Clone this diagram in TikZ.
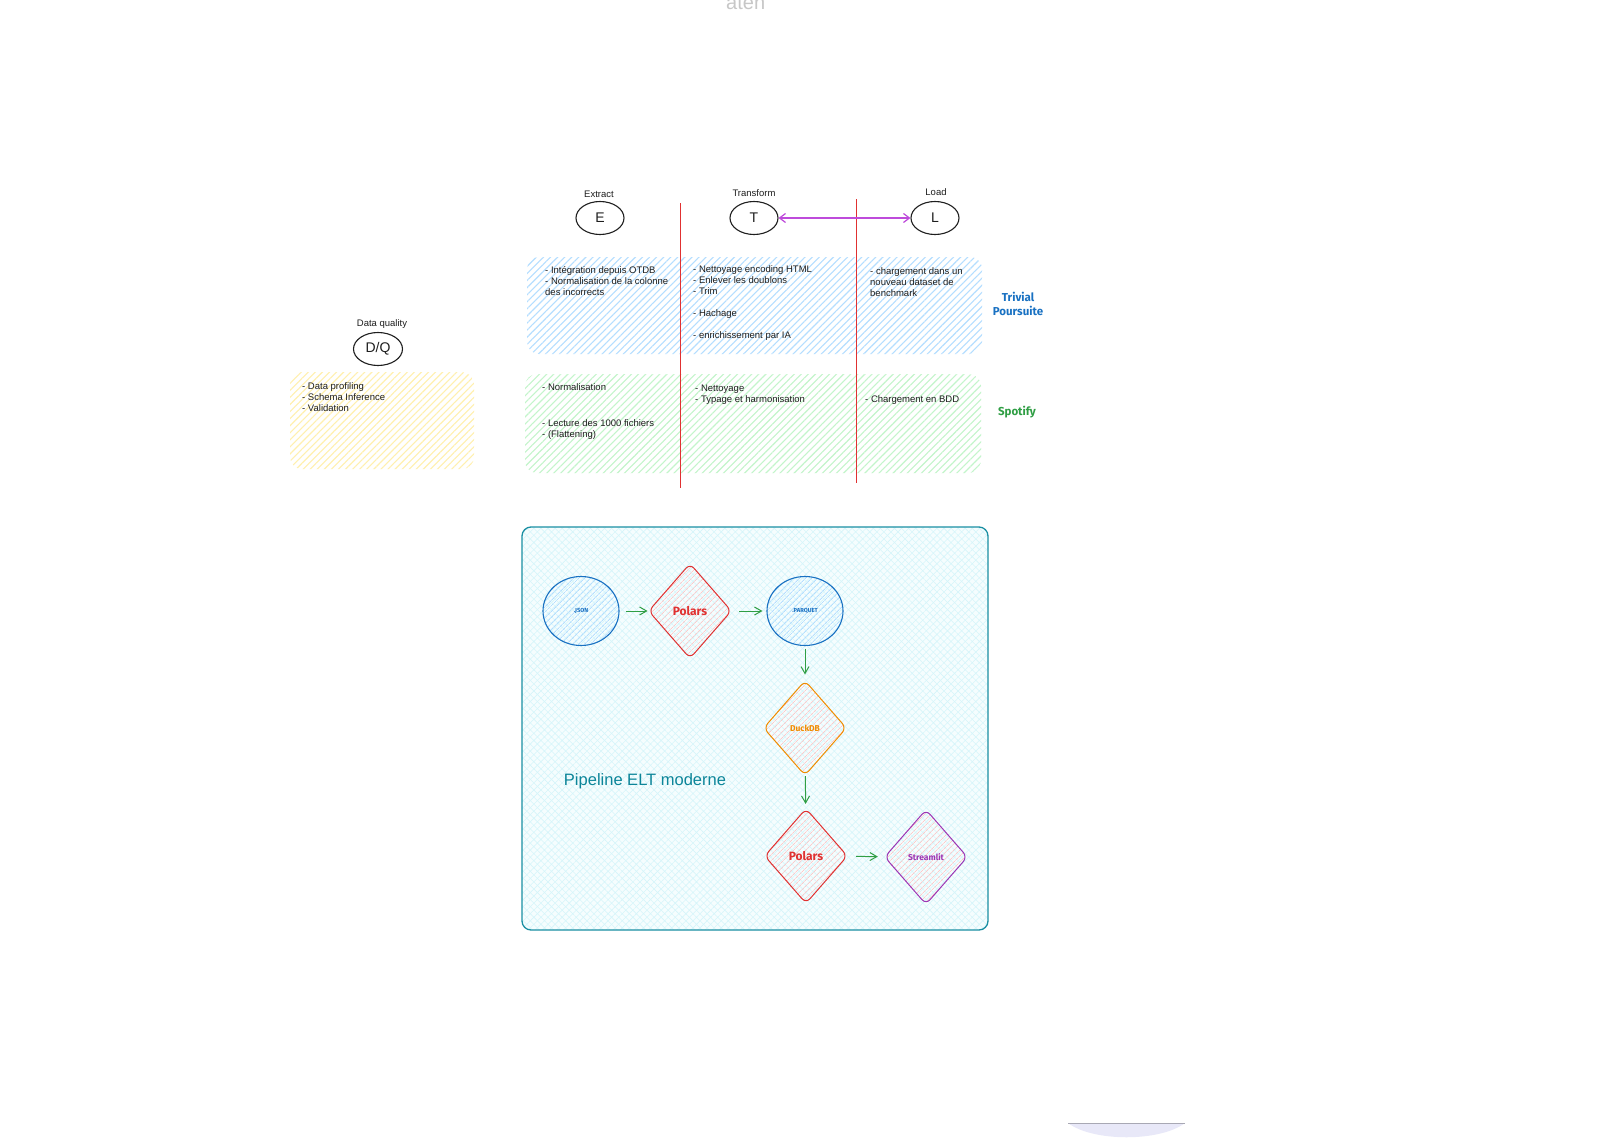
\documentclass[tikz,border=0pt]{standalone}
\usepackage{fontspec}
\setmainfont{Liberation Sans}
\newfontfamily\labfont{Fira Sans}
\usetikzlibrary{shapes.geometric,arrows.meta,patterns.meta}
\definecolor{ink}{HTML}{1E1E1E}
\definecolor{redl}{HTML}{E03131}
\definecolor{purpl}{HTML}{BE4BDB}
\definecolor{purpd}{HTML}{9C36B5}
\definecolor{blued}{HTML}{1971C2}
\definecolor{bluehatch}{HTML}{B4DEFF}
\definecolor{greend}{HTML}{2F9E44}
\definecolor{greenhatch}{HTML}{C3F5CB}
\definecolor{yellowhatch}{HTML}{FFF0AE}
\definecolor{tealb}{HTML}{1A8FA3}
\definecolor{tealtext}{HTML}{0C8599}
\definecolor{cyanbg}{HTML}{F5FDFE}
\definecolor{cyanhatch}{HTML}{D6F5FA}
\definecolor{pinkhatch}{HTML}{FFC9C9}
\definecolor{orng}{HTML}{F08C00}
\definecolor{lav}{HTML}{E8E8F8}
\definecolor{lavline}{HTML}{A8A8B4}
\begin{document}
\begin{tikzpicture}[x=1pt,y=-1pt,
  txt/.style={anchor=north west,inner sep=0pt,align=left,text=ink,font=\fontsize{9.5}{11}\selectfont},
  lbl/.style={inner sep=0pt,text=ink,font=\fontsize{9.5}{11}\selectfont},
  letter/.style={ellipse,draw=ink,line width=1.1pt,minimum width=48pt,minimum height=33pt,inner sep=0pt,font=\fontsize{14}{14}\selectfont,text=ink},
  fileell/.style={ellipse,draw=blued,line width=1.1pt,minimum width=76pt,minimum height=69pt,inner sep=0pt,pattern={Lines[angle=45,distance=4pt,line width=1pt]},pattern color=bluehatch,text=blued,font=\labfont\bfseries\fontsize{5.8}{6}\selectfont},
  tool/.style={diamond,line width=1pt,minimum width=83pt,minimum height=95pt,inner sep=0pt,rounded corners=6pt,pattern={Lines[angle=45,distance=4pt,line width=0.8pt]},pattern color=pinkhatch},
  bigtool/.style={tool,font=\labfont\bfseries\fontsize{12}{12}\selectfont},
  smalltool/.style={tool,font=\labfont\bfseries\fontsize{8.5}{9}\selectfont},
  flow/.style={draw=greend,line width=1pt,-{Straight Barb[length=7pt,width=8pt]}},
  sepline/.style={draw=redl,line width=1pt},
  lanehatch/.style={pattern={Lines[angle=45,distance=5pt,line width=1.1pt]},rounded corners=12pt},
  lane/.style={font=\labfont\bfseries\fontsize{11.5}{14.5}\selectfont,inner sep=0pt,align=center}
]
\useasboundingbox (0,0) rectangle (1618,1140);
\fill[white] (0,0) rectangle (1618,1140);

% faint artifacts at the edges
\begin{scope}
\clip (0,0) rectangle (1618,1140);
\node[anchor=base west,inner sep=0pt,text=black!22,font=\fontsize{20}{20}\selectfont] (topart) at (726,10) {aten};
\fill[lav] (1068,1123) -- (1185,1123) .. controls (1160,1142) and (1093,1142) .. (1068,1123) -- cycle;
\draw[lavline,line width=1pt] (1068,1123) -- (1185,1123);
\end{scope}

% lanes
\path[lanehatch,pattern color=bluehatch] (527,257) rectangle (982,354);
\path[lanehatch,pattern color=greenhatch] (525,374) rectangle (981,473);
\path[lanehatch,pattern color=yellowhatch] (290,372) rectangle (474,469);

% separators
\coordinate (s1top) at (680,203);
\coordinate (s1bot) at (680,488);
\coordinate (s2top) at (856,199);
\coordinate (s2bot) at (856,483);
\draw[sepline] (s1top) -- (s1bot);
\draw[sepline] (s2top) -- (s2bot);

% E T L headers
\node[lbl] (extractlbl) at (599,194) {Extract};
\node[letter] (E) at (600,218) {E};
\node[lbl] (transformlbl) at (754,193) {Transform};
\node[letter] (T) at (754,218) {T};
\node[lbl] (loadlbl) at (936,192) {Load};
\node[letter] (L) at (935,218) {L};
\draw[purpl,line width=1.2pt,{Straight Barb[length=6pt,width=9pt]}-{Straight Barb[length=6pt,width=9pt]}] (T) -- (L);

\node[lbl] (dqlbl) at (382,324) {Data quality};
\node[letter,minimum width=49pt] (DQ) at (378,349) {D/Q};

% lane texts
\node[txt] (tpE) at (545,266.2) {\rule{0pt}{7pt}- Intégration depuis OTDB\\- Normalisation de la colonne\\des incorrects};
\node[txt] (tpT) at (693,265.2) {\rule{0pt}{7pt}- Nettoyage encoding HTML\\- Enlever les doublons\\- Trim\\[11pt]- Hachage\\[11pt]- enrichissement par IA};
\node[txt] (tpL) at (870,267.2) {\rule{0pt}{7pt}- chargement dans un\\nouveau dataset de\\benchmark};
\node[txt] (spE) at (542,383.2) {\rule{0pt}{7pt}- Normalisation\\[25pt]- Lecture des 1000 fichiers\\- (Flattening)};
\node[txt] (spT) at (695,384.2) {\rule{0pt}{7pt}- Nettoyage\\- Typage et harmonisation};
\node[txt] (spL) at (865,395.2) {\rule{0pt}{7pt}- Chargement en BDD};
\node[txt] (dqT) at (302,382.2) {\rule{0pt}{7pt}- Data profiling\\- Schema Inference\\- Validation};

\node[lane,text=blued] (trivial) at (1018,304) {Trivial\\Poursuite};
\node[lane,text=greend] (spotify) at (1017,412) {Spotify};

% pipeline frame
\draw[draw=tealb,line width=1.3pt,rounded corners=9pt,preaction={fill=cyanbg},pattern={Hatch[angle=45,distance=5pt,line width=0.6pt]},pattern color=cyanhatch] (522,527) rectangle (988,930);

\node[fileell] (json) at (581,611) {.JSON};
\node[bigtool,draw=redl,text=redl] (polars1) at (690,611) {Polars};
\node[fileell] (parquet) at (805,611) {.PARQUET};
\node[smalltool,draw=orng,text=orng] (duckdb) at (805,728) {DuckDB};
\node[bigtool,draw=redl,text=redl] (polars2) at (806,856) {Polars};
\node[smalltool,draw=purpd,text=purpd] (streamlit) at (926,857) {Streamlit};

\draw[flow,shorten <=6pt,shorten >=0.5pt] (json) -- (polars1);
\draw[flow,shorten <=7.5pt,shorten >=4pt] (polars1) -- (parquet);
\draw[flow,shorten <=2.5pt,shorten >=5.5pt] (parquet) -- (duckdb);
\draw[flow,shorten <=0.5pt,shorten >=4.5pt] (duckdb) -- (polars2);
\draw[flow,shorten <=8.5pt,shorten >=6.5pt] (polars2) -- (streamlit);

\node[inner sep=0pt,text=tealtext,font=\fontsize{16.5}{17}\selectfont] (pipe) at (645,781) {Pipeline ELT moderne};
\end{tikzpicture}
\end{document}
